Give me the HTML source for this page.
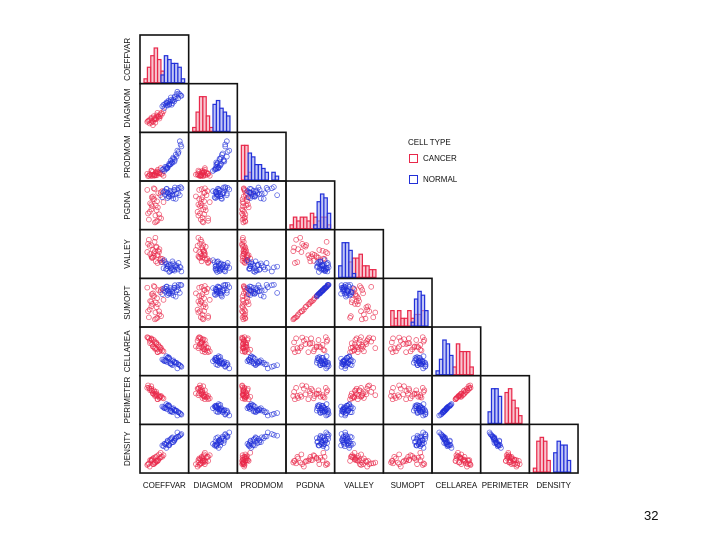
<!DOCTYPE html>
<html><head><meta charset="utf-8"><style>
html,body{margin:0;padding:0;background:#fff;}
svg{display:block;font-family:"Liberation Sans",sans-serif;}
</style></head><body>
<svg id="chart" width="720" height="540"></svg>
<script>
const varNames = ["COEFFVAR","DIAGMOM","PRODMOM","PGDNA","VALLEY","SUMOPT","CELLAREA","PERIMETER","DENSITY"];
const cancerCV = [12,22,18,8,28,15,30,25,14,35,20,38,24,32,10,40,27,18,45,31,22,42,34,26,37,48,19,33,41,29];
const cancerDM = [20,8,26,16,14,20,24,22,12,28,18,24,30,28,18,34,26,14,36,32,16,38,30,22,28,42,24,38,30,22];
const cancerPM = [3,6,2,8,4,5,10,3,7,12,4,9,6,14,2,11,5,16,8,4,13,7,18,6,10,3,15,9,22,12];
const cancerPG = [15,72,40,88,25,55,10,65,34,80,48,20,92,60,30,75,8,52,85,38,66,18,45,90,28,58,70,12,82,50];
const cancerVA = [85,60,72,55,90,50,66,45,70,58,40,62,52,48,75,35,57,44,38,68,42,30,47,80,55,33,41,28,39,32];
const cancerSO = [14,73,41,87,26,54,11,66,33,81,47,21,91,61,29,76,9,53,84,39,67,17,46,89,29,57,71,13,81,51];
const cancerCA = [82,62,80,85,58,70,72,60,76,66,68,50,78,55,84,60,56,82,52,68,62,58,48,74,62,50,78,48,54,70];
const cancerPE = [80,66,84,80,62,74,70,64,78,62,72,55,74,60,86,58,60,78,56,64,66,60,52,70,58,54,74,52,58,66];
const cancerDE = [14,12,20,10,16,22,20,28,6,22,24,26,12,32,12,28,16,22,30,18,26,30,20,14,36,34,22,20,40,30];
const normalCV = [45,62,50,78,55,70,48,85,58,66,74,52,90,60,68,80,56,72,64,88,54,76,62,82,70,58,92,66,75,84];
const normalDM = [54,58,50,72,64,62,58,86,56,76,66,60,80,68,58,84,62,70,66,84,56,76,60,90,68,64,80,70,78,74];
const normalPM = [18,30,15,55,24,35,20,62,22,40,45,25,80,28,36,50,21,48,30,88,19,42,33,65,44,23,75,32,38,58];
const normalPG = [70,78,85,66,90,74,82,93,68,80,88,76,95,72,84,79,91,67,86,75,83,94,71,89,77,81,92,73,87,80];
const normalVA = [30,22,35,18,26,32,15,28,20,24,12,30,17,25,10,22,14,27,8,19,13,23,6,16,11,20,7,15,9,12];
const normalSO = [71,77,86,65,89,75,81,94,69,79,87,77,94,73,83,80,90,68,87,74,84,93,72,88,78,80,93,72,86,81];
const normalCA = [30,34,26,22,38,16,28,18,34,20,24,26,14,36,18,22,24,28,20,16,28,22,32,8,26,34,12,20,24,18];
const normalPE = [34,36,30,24,40,20,32,20,36,24,26,30,16,38,22,24,28,30,22,18,32,24,34,12,28,36,14,24,26,20];
const normalDE = [58,60,62,76,52,78,56,80,68,64,70,62,84,58,76,78,64,66,72,82,60,74,58,90,66,70,86,74,70,80];

const cancer = [cancerCV,cancerDM,cancerPM,cancerPG,cancerVA,cancerSO,cancerCA,cancerPE,cancerDE];
const normal = [normalCV,normalDM,normalPM,normalPG,normalVA,normalSO,normalCA,normalPE,normalDE];
const RED="#e8284a", BLUE="#2230d8";
const NS="http://www.w3.org/2000/svg";
const svg=document.getElementById('chart');
const X0=140,Y0=35,STEP=48.67,PAD=4;
function mk(tag,attrs,parent){const e=document.createElementNS(NS,tag);for(const k in attrs)e.setAttribute(k,attrs[k]);(parent||svg).appendChild(e);return e;}
function sx(col,v){return X0+col*STEP+PAD+(v/100)*(STEP-2*PAD);}
function sy(row,v){return Y0+(row+1)*STEP-PAD-(v/100)*(STEP-2*PAD);}

for(let r=0;r<9;r++){
  for(let c=0;c<=r;c++){
    const g=mk('g',{});
    
    
    if(r===c){
      const nb=12, bw=(STEP-2*PAD)/nb, base=Y0+(r+1)*STEP-1;
      [[cancer,RED,"#f3a0b0"],[normal,BLUE,"#9aa2ee"]].forEach(([grp,col,fill])=>{
        const counts=new Array(nb).fill(0);
        grp[c].forEach(v=>{counts[Math.min(nb-1,Math.floor(v/100*nb))]++;});
        const maxc=9;
        counts.forEach((n,i)=>{
          if(!n)return;
          const h=Math.min(n/maxc,1)*(STEP-14);
          const b=mk('rect',{x:X0+c*STEP+PAD+i*bw,y:base-h,width:bw,height:h,fill:fill,'fill-opacity':0.6,stroke:col,'stroke-width':1.2},g);
          
          
        });
      });
    } else {
      [[cancer,RED],[normal,BLUE]].forEach(([grp,col])=>{
        grp[c].forEach((v,i)=>{
          const p=mk('circle',{cx:sx(c,v),cy:sy(r,grp[r][i]),r:2.4,fill:'none',stroke:col,'stroke-opacity':0.75,'stroke-width':0.8},g);
          
          
        });
      });
    }
    const bd=mk('rect',{x:X0+c*STEP,y:Y0+r*STEP,width:STEP,height:STEP,fill:'none',stroke:'#111','stroke-width':1.6},g);
    
    
  }
  const cy=Y0+r*STEP+STEP/2;
  const t=mk('text',{x:130,y:cy,'font-size':8,'text-anchor':'middle',fill:'#111',transform:`rotate(-90 130 ${cy})`});
  t.textContent=varNames[r];
  
  
  const tx=X0+r*STEP+STEP/2;
  const t2=mk('text',{x:tx,y:488,'font-size':8,'text-anchor':'middle',fill:'#111'});
  t2.textContent=varNames[r];
  
  
}
</script>
<div style="position:absolute;left:0;top:0;width:720px;height:540px;pointer-events:none;font-family:'Liberation Sans',sans-serif;">
  <div style="position:absolute;left:408px;top:138px;font-size:8px;color:#111;">
    <div>CELL TYPE</div>
    <div style="position:absolute;left:1px;top:16px;white-space:nowrap;"><span style="display:inline-block;width:7px;height:7px;border:1.5px solid #e8284a;vertical-align:middle;margin-right:5px;"></span>CANCER</div>
    <div style="position:absolute;left:1px;top:37px;white-space:nowrap;"><span style="display:inline-block;width:7px;height:7px;border:1.5px solid #2230d8;vertical-align:middle;margin-right:5px;"></span>NORMAL</div>
  </div>
  <div style="position:absolute;left:644px;top:508px;font-size:13px;color:#111;">32</div>
</div>
</body></html>
